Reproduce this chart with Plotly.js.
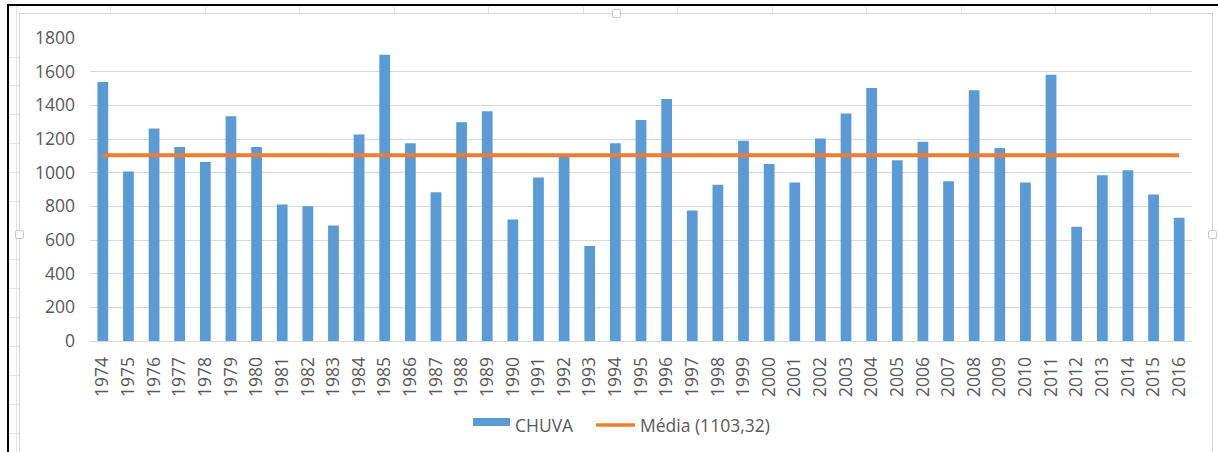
<!DOCTYPE html>
<html>
<head>
<meta charset="utf-8">
<script src="https://cdn.plot.ly/plotly-3.0.1.min.js"></script>
<style>
  html, body { margin: 0; padding: 0; background: #ffffff; }
  #wrap { position: relative; width: 1218px; height: 452px; overflow: hidden; background: #ffffff; }
  .bl { position: absolute; background: #000000; }
  .gl { position: absolute; background: #e3e3e3; }
  #chartbox { position: absolute; left: 19px; top: 13px; width: 1192px; height: 460px; border: 1px solid #d4d4d4; background: #ffffff; }
  .handle { position: absolute; width: 7px; height: 7px; border: 1px solid #c8c8c8; background: #ffffff; border-radius: 2px; }
  #chart { position: absolute; left: 0; top: 0; width: 1218px; height: 452px; }
</style>
</head>
<body>
<div id="wrap">
  <div class="gl" style="left:110px;top:6px;width:1px;height:7px"></div>
  <div class="gl" style="left:205px;top:6px;width:1px;height:7px"></div>
  <div class="gl" style="left:299px;top:6px;width:1px;height:7px"></div>
  <div class="gl" style="left:394px;top:6px;width:1px;height:7px"></div>
  <div class="gl" style="left:488px;top:6px;width:1px;height:7px"></div>
  <div class="gl" style="left:583px;top:6px;width:1px;height:7px"></div>
  <div class="gl" style="left:677px;top:6px;width:1px;height:7px"></div>
  <div class="gl" style="left:772px;top:6px;width:1px;height:7px"></div>
  <div class="gl" style="left:866px;top:6px;width:1px;height:7px"></div>
  <div class="gl" style="left:961px;top:6px;width:1px;height:7px"></div>
  <div class="gl" style="left:1055px;top:6px;width:1px;height:7px"></div>
  <div class="gl" style="left:1150px;top:6px;width:1px;height:7px"></div>
  <div class="gl" style="left:9px;top:57px;width:10px;height:1px"></div>
  <div class="gl" style="left:9px;top:85px;width:10px;height:1px"></div>
  <div class="gl" style="left:9px;top:114px;width:10px;height:1px"></div>
  <div class="gl" style="left:9px;top:143px;width:10px;height:1px"></div>
  <div class="gl" style="left:9px;top:172px;width:10px;height:1px"></div>
  <div class="gl" style="left:9px;top:201px;width:10px;height:1px"></div>
  <div class="gl" style="left:9px;top:259px;width:10px;height:1px"></div>
  <div class="gl" style="left:9px;top:288px;width:10px;height:1px"></div>
  <div class="gl" style="left:9px;top:317px;width:10px;height:1px"></div>
  <div class="gl" style="left:9px;top:346px;width:10px;height:1px"></div>
  <div class="gl" style="left:9px;top:375px;width:10px;height:1px"></div>
  <div class="gl" style="left:9px;top:404px;width:10px;height:1px"></div>
  <div class="gl" style="left:9px;top:433px;width:10px;height:1px"></div>
  <div class="gl" style="left:16px;top:6px;width:1px;height:446px"></div>
  <div id="chartbox"></div>
  <div class="handle" style="left:612px;top:9px"></div>
  <div class="handle" style="left:15px;top:230px"></div>
  <div class="handle" style="left:1208px;top:230px"></div>
  <div class="bl" style="left:7px;top:4px;width:1211px;height:2px"></div>
  <div class="bl" style="left:7px;top:4px;width:2px;height:448px"></div>
  <div id="chart"></div>
</div>
<script>
const anos = ['1974','1975','1976','1977','1978','1979','1980','1981','1982','1983',
  '1984','1985','1986','1987','1988','1989','1990','1991','1992','1993',
  '1994','1995','1996','1997','1998','1999','2000','2001','2002','2003',
  '2004','2005','2006','2007','2008','2009','2010','2011','2012','2013',
  '2014','2015','2016'];
const chuva = [1539,1007,1262,1153,1064,1335,1153,811,801,686,
  1226,1701,1175,884,1299,1365,722,971,1094,564,
  1175,1313,1438,775,928,1189,1052,942,1203,1351,
  1503,1074,1183,949,1489,1147,942,1582,679,985,
  1015,870,732];
const mediaX = ['1974','2016'];
const mediaY = [1103.32, 1103.32];
const yTicks = [0,200,400,600,800,1000,1200,1400,1600,1800];
const serieNomes = ['CHUVA', 'Média (1103,32)'];

const fontFam = '"Open Sans", "DejaVu Sans", sans-serif';
const txt = '#595959';
const corBarra = '#5B9BD5';
const corLinha = '#ED7D31';

const traces = [
  {
    type: 'bar', name: serieNomes[0], x: anos, y: chuva,
    marker: {color: corBarra}, width: 0.42
  },
  {
    type: 'scatter', mode: 'lines', name: serieNomes[1], x: mediaX, y: mediaY,
    line: {color: corLinha, width: 4}
  }
];

// plot area: left 90px, width 1102px; bottom 341px, height 303px
const L = 90, W = 1102, B = 341, H = 303;
const px = v => (v - L) / W;
const py = v => (B - v) / H;

const layout = {
  width: 1218, height: 452,
  margin: {l: 90, r: 26, t: 38, b: 111, pad: 0},
  paper_bgcolor: 'rgba(0,0,0,0)',
  plot_bgcolor: 'rgba(0,0,0,0)',
  showlegend: false,
  font: {family: fontFam, color: txt, size: 17.5},
  xaxis: {
    type: 'category', categoryorder: 'array', categoryarray: anos,
    tickangle: -90, tickfont: {family: fontFam, size: 17.5, color: txt},
    showgrid: false, showline: true, linecolor: '#d9d9d9', linewidth: 1,
    ticks: '', ticklabelstandoff: 8, zeroline: false, fixedrange: true
  },
  yaxis: {
    range: [0, 1800], tickvals: yTicks, ticktext: yTicks.map(String),
    tickfont: {family: fontFam, size: 17.5, color: txt},
    showgrid: true, gridcolor: '#d9d9d9', gridwidth: 1,
    zeroline: false, showline: false, ticks: '', ticklabelstandoff: 14, fixedrange: true
  },
  shapes: [
    {type: 'rect', xref: 'paper', yref: 'paper',
     x0: px(473), x1: px(510), y0: py(426), y1: py(418),
     fillcolor: corBarra, line: {width: 0}},
    {type: 'line', xref: 'paper', yref: 'paper',
     x0: px(596), x1: px(635), y0: py(425), y1: py(425),
     line: {color: corLinha, width: 3.5}}
  ],
  annotations: [
    {xref: 'paper', yref: 'paper', x: px(513), y: py(424.5), xanchor: 'left', yanchor: 'middle',
     text: serieNomes[0], showarrow: false, font: {family: fontFam, size: 17.5, color: txt}},
    {xref: 'paper', yref: 'paper', x: px(638), y: py(424.5), xanchor: 'left', yanchor: 'middle',
     text: serieNomes[1], showarrow: false, font: {family: fontFam, size: 17.5, color: txt}}
  ],
  bargap: 0.58
};

Plotly.newPlot('chart', traces, layout, {displayModeBar: false, staticPlot: true});
</script>
</body>
</html>
